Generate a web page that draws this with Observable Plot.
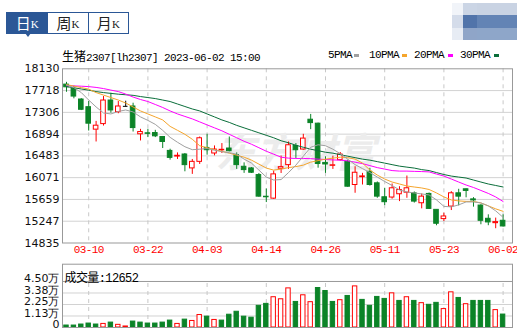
<!DOCTYPE html>
<html><head><meta charset="utf-8">
<script src="https://cdn.jsdelivr.net/npm/d3@7"></script>
<script src="https://cdn.jsdelivr.net/npm/@observablehq/plot@0.6"></script>
<style>
body{margin:0;background:#fff;width:517px;height:333px;overflow:hidden;position:relative}
.abs{position:absolute}
.mono{font-family:"Liberation Mono",monospace;font-size:11px;letter-spacing:-0.6px;white-space:nowrap;color:#000}
.cjk{font-family:"Noto Sans CJK SC",sans-serif;font-size:12px;letter-spacing:0}
.tabs{left:6px;top:12px;width:121px;height:20px;border:1px solid #2b5796;display:flex}
.tab{width:40px;height:20px;display:flex;align-items:center;justify-content:center;color:#222}
.tab .c{font-family:"Noto Sans CJK SC",sans-serif;font-size:15px;line-height:20px}
.tab .k{font-family:"Liberation Serif",serif;font-size:11px;line-height:20px;margin-top:2px}
.tab.sel{background:#2b5796;color:#fff;width:41px}
.tab+.tab{border-left:1px solid #2b5796}
.sw{position:absolute;top:54px;width:5px;height:3px}
g[font-family*="Mono"] text{letter-spacing:-0.6px}
#chart{position:absolute;left:0;top:60px}
#vol{position:absolute;left:0;top:262px}
</style>
</head><body>
<div class="abs tabs">
  <div class="tab sel"><span class="c">日</span><span class="k">K</span></div>
  <div class="tab"><span class="c">周</span><span class="k">K</span></div>
  <div class="tab"><span class="c">月</span><span class="k">K</span></div>
</div>
<div class="abs" style="left:25px;top:33px;width:0;height:0;border-left:3px solid transparent;border-right:3px solid transparent;border-top:4px solid #2b5796"></div>
<div class="abs" style="left:452px;top:3px;display:grid;grid-template-columns:11px 14px 40px;grid-template-rows:12px 13px 12px;filter:blur(0.6px)">
  <div style="background:#f1f4f9"></div><div style="background:#cbd5e5"></div><div style="background:#c9d3e3"></div>
  <div style="background:#d4dcea"></div><div style="background:#5174aa"></div><div style="background:#6384b5"></div>
  <div style="background:#e7ecf4"></div><div style="background:#8fa5c8"></div><div style="background:#8ea6c9"></div>
</div>
<div class="abs mono" style="left:62px;top:49px;line-height:13px"><span class="cjk">生猪</span>2307[lh2307] 2023-06-02 15:00</div>
<div id="legend"></div>
<div id="chart"></div>
<div id="vol"></div>
<script>
const dates = ["03-07","03-08","03-09","03-10","03-13","03-14","03-15","03-16","03-17","03-20","03-21","03-22","03-23","03-24","03-27","03-28","03-29","03-30","03-31","04-03","04-04","04-06","04-07","04-10","04-11","04-12","04-13","04-14","04-17","04-18","04-19","04-20","04-21","04-24","04-25","04-26","04-27","04-28","05-04","05-05","05-08","05-09","05-10","05-11","05-12","05-15","05-16","05-17","05-18","05-19","05-22","05-23","05-24","05-25","05-26","05-29","05-30","05-31","06-01","06-02"];
const open = [17831,17750,17549,17404,16979,17084,17530,17310,17420,17417,16891,16910,16915,16840,16577,16470,16509,16246,16370,16633,16528,16588,16622,16496,16277,16246,16120,15710,15674,16240,16308,16671,16603,17167,17092,16350,16295,16402,16370,15932,16080,16182,15964,15700,15695,15757,15787,15775,15587,15763,15462,15287,15524,15775,15851,15660,15543,15293,15210,15255];
const high = [17874,17800,17565,17511,17135,17605,17668,17511,17517,17479,16985,16985,16966,16850,16609,16539,16528,16415,16840,16891,16671,16716,16840,16539,16351,16260,16150,15857,16195,16480,16746,16716,16891,17267,17103,16465,16477,16546,16402,16277,16152,16246,15990,15870,15951,15900,16102,15800,15763,15780,15462,15400,15806,15851,15857,15693,15560,15368,15306,15368];
const low = [17686,17562,17340,16953,16746,17047,17291,17280,17410,16934,16765,16829,16829,16622,16402,16415,16182,16133,16321,16496,16483,16528,16560,16227,16152,16150,15700,15600,15660,16150,16227,16434,16590,16979,16250,16152,16227,16384,15889,15776,15932,15910,15681,15543,15664,15618,15681,15590,15481,15470,15161,15242,15449,15537,15690,15513,15180,15162,15105,15137];
const close = [17780,17605,17355,17092,17054,17530,17342,17417,17420,17009,16934,16900,16853,16746,16445,16485,16308,16370,16816,16590,16603,16598,16571,16308,16214,16164,15712,15700,16133,16270,16684,16590,16810,17103,16330,16320,16305,16509,15900,16164,16095,15932,15712,15607,15870,15838,15870,15618,15712,15480,15199,15337,15775,15712,15820,15640,15255,15224,15230,15148];
const volume = [1930,1900,2900,3860,2900,3500,4800,2600,1000,5800,4800,3860,3860,4800,6750,3500,7700,6400,12200,10600,7400,6750,12500,15400,10600,9600,21200,23100,29600,27600,38250,25000,31500,24750,38600,35700,25000,26700,30850,40200,27000,21200,29900,27960,33400,26000,29600,26000,23800,22200,24100,18000,34400,28900,22800,26000,26000,26000,17000,12652];
const ma5 = [17821,17774,17680,17539,17408,17295,17276,17323,17351,17314,17220,17154,17079,16966,16834,16740,16656,16600,16609,16622,16590,16562,16543,16515,16421,16346,16214,16082,16026,16035,16167,16308,16477,16646,16693,16675,16609,16524,16421,16317,16242,16167,16082,15998,15923,15838,15800,15782,15763,15744,15650,15528,15518,15556,15612,15612,15593,15537,15443,15320];
const ma10 = [17831,17803,17774,17746,17680,17633,17586,17539,17483,17408,17333,17276,17220,17163,17041,16966,16891,16797,16675,16637,16600,16571,16534,16496,16458,16402,16327,16252,16214,16233,16261,16280,16308,16364,16393,16421,16440,16458,16449,16421,16346,16214,16120,16045,15988,15951,15913,15894,15876,15847,15782,15706,15650,15631,15622,15622,15593,15537,15481,15434];
const ma20 = [17812,17806,17801,17793,17778,17756,17727,17699,17652,17596,17549,17511,17455,17398,17333,17276,17229,17182,17126,17069,17013,16957,16891,16825,16759,16703,16637,16571,16515,16458,16440,16434,16434,16430,16421,16415,16406,16402,16389,16364,16336,16299,16261,16233,16205,16195,16195,16190,16186,16180,16139,16101,16045,15988,15932,15885,15829,15773,15706,15620];
const ma30 = [17793,17771,17748,17726,17699,17680,17665,17650,17639,17628,17605,17586,17567,17539,17511,17464,17417,17370,17333,17276,17220,17163,17116,17060,17013,16966,16919,16872,16825,16769,16731,16684,16646,16609,16581,16552,16534,16505,16477,16449,16421,16402,16374,16346,16317,16289,16270,16252,16223,16205,16167,16130,16101,16082,16064,16026,15988,15951,15923,15894];
const yTicks = [18130,17718,17306,16894,16483,16071,15659,15247,14835];
const dateTicks = ["03-10","03-22","04-03","04-14","04-26","05-11","05-23","06-02"];
const volTicks = [0,11250,22500,33750,45000];
const volTickLabels = ["0","1.13万","2.25万","3.38万","4.50万"];
const maNames = ["5PMA","10PMA","20PMA","30PMA"];
const maColors = ["#a0a0a0","#f5a52c","#ff00ff","#0a6e3a"];

const RED = "#ff0000", GREEN = "#0b8327";
const rows = dates.map((d, i) => ({
  date: d, open: open[i], high: high[i], low: low[i], close: close[i], vol: volume[i],
  ma5: ma5[i], ma10: ma10[i], ma20: ma20[i], ma30: ma30[i],
  up: close[i] > open[i], doji: close[i] === open[i],
  volUp: close[i] > (i ? close[i - 1] : open[i])
}));
const candleColor = d => d.doji ? "#000" : (d.up ? RED : GREEN);

// legend
const legPos = [[328,354],[369,402],[414,448],[460,494]];
const leg = document.getElementById("legend");
maNames.forEach((n, i) => {
  const t = document.createElement("div");
  t.className = "abs mono"; t.style.left = legPos[i][0] + "px"; t.style.top = "49px"; t.style.lineHeight = "13px";
  t.textContent = n; leg.appendChild(t);
  const s = document.createElement("div");
  s.className = "sw"; s.style.left = legPos[i][1] + "px"; s.style.background = maColors[i];
  leg.appendChild(s);
});

const xScale = {type: "band", domain: dates, range: [62.3, 506.3], padding: 0, round: false, axis: null};
const lab = {fontFamily: "DejaVu Sans", fontSize: 11, fill: "#111"};

const chart = Plot.plot({
  width: 517, height: 200,
  marginLeft: 62, marginRight: 5, marginTop: 8.3, marginBottom: 17.5,
  x: xScale,
  y: {domain: [14835, 18130], axis: null},
  color: {type: "identity"},
  style: {background: "transparent", overflow: "visible"},
  marks: [
    Plot.ruleY(yTicks.slice(1, -1), {stroke: "#d2d2d2"}),
    Plot.ruleX(dateTicks, {x: d => d, stroke: "#c8c8c8", strokeDasharray: "4,4"}),
    Plot.text(["东方财富"], {frameAnchor: "middle", dx: 8, dy: -2, fontSize: 40, fontWeight: "bold", fontStyle: "italic", fontFamily: "Noto Sans CJK SC", fill: "#ececec"}),
    Plot.ruleX(rows, {x: "date", y1: "low", y2: "high", stroke: candleColor}),
    Plot.barY(rows.filter(d => !d.doji), {x: "date", y1: "open", y2: "close", fill: d => d.up ? "#fff" : GREEN, stroke: candleColor, insetLeft: 1.4, insetRight: 1.4}),
    Plot.tickY(rows.filter(d => d.doji), {x: "date", y: "close", stroke: "#000", insetLeft: 1.4, insetRight: 1.4}),
    Plot.line(rows, {x: "date", y: "ma30", stroke: maColors[3], strokeWidth: 1}),
    Plot.line(rows, {x: "date", y: "ma20", stroke: maColors[2], strokeWidth: 1}),
    Plot.line(rows, {x: "date", y: "ma10", stroke: maColors[1], strokeWidth: 1}),
    Plot.line(rows, {x: "date", y: "ma5", stroke: maColors[0], strokeWidth: 1}),
    Plot.frame({stroke: "#999"}),
    Plot.text(yTicks, {y: d => d, text: d => String(d), frameAnchor: "left", textAnchor: "end", dx: -3, ...lab}),
    Plot.text(dateTicks, {x: d => d, text: d => d, frameAnchor: "bottom", dy: 10, fill: RED, fontFamily: "Liberation Mono", fontSize: 11})
  ]
});
document.getElementById("chart").appendChild(chart);

const vol = Plot.plot({
  width: 517, height: 70,
  marginLeft: 62, marginRight: 5, marginTop: 1.7, marginBottom: 5,
  x: xScale,
  y: {domain: [0, 61900], axis: null},
  color: {type: "identity"},
  style: {background: "transparent", overflow: "visible"},
  marks: [
    Plot.ruleY(volTicks.slice(1, 4), {stroke: "#d2d2d2"}),
    Plot.ruleX(dateTicks, {x: d => d, y1: 0, y2: 45000, stroke: "#c8c8c8", strokeDasharray: "4,4"}),
    Plot.barY(rows, {x: "date", y: "vol", fill: d => d.volUp ? "#fff" : GREEN, stroke: d => d.volUp ? RED : GREEN, insetLeft: 1.5, insetRight: 1.5}),
    Plot.ruleY([45000], {stroke: "#999"}),
    Plot.frame({stroke: "#999"}),
    Plot.text(volTicks, {y: d => d, text: (d, i) => volTickLabels[i], frameAnchor: "left", textAnchor: "end", dx: -3, dy: -3, ...lab}),
    Plot.text(["成交量:" + volume[volume.length - 1]], {frameAnchor: "top-left", dx: 2, dy: 9, textAnchor: "start", fontFamily: "Liberation Mono, Noto Sans CJK SC", fontSize: 12, fill: "#000"})
  ]
});
document.getElementById("vol").appendChild(vol);
</script>
</body></html>
